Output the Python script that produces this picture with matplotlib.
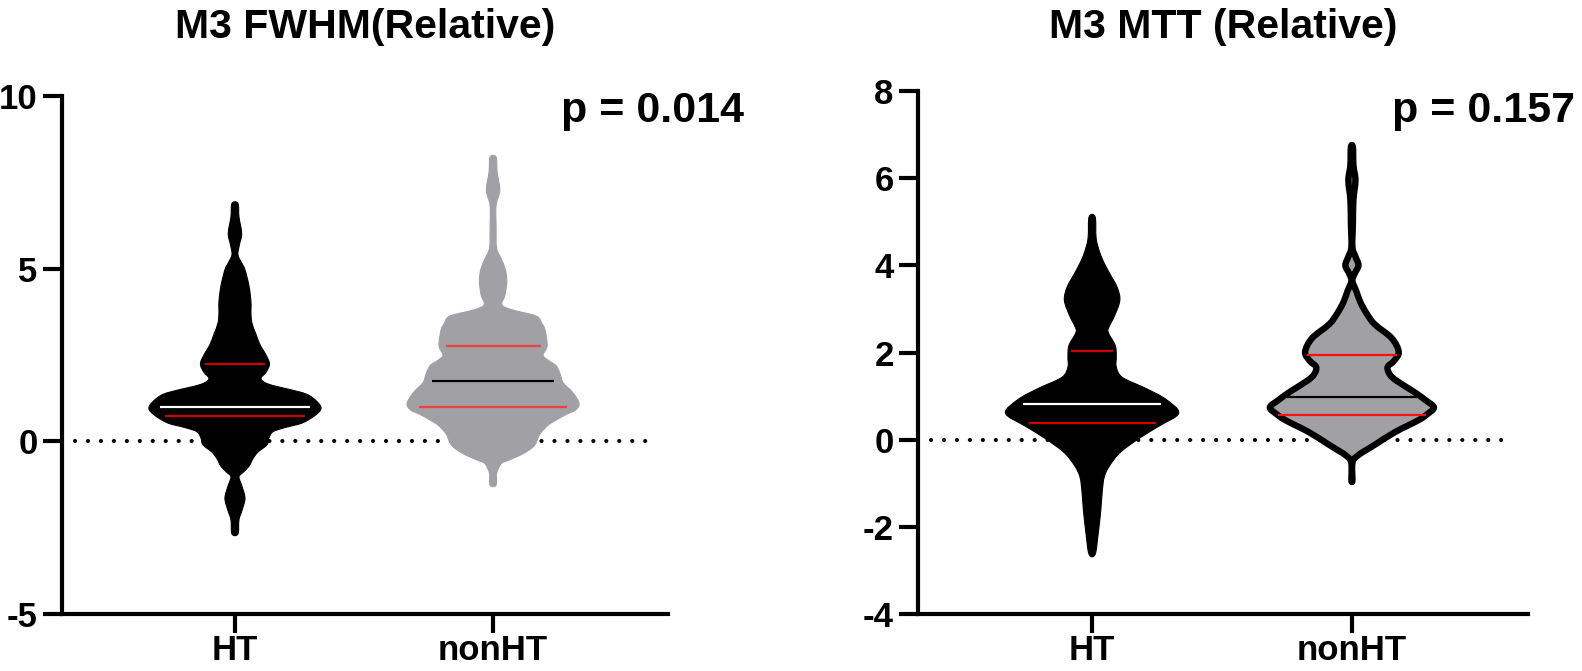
import numpy as np
import matplotlib
matplotlib.use('Agg')
import matplotlib.pyplot as plt
from matplotlib.path import Path
from matplotlib.patches import PathPatch

plt.rcParams['font.family'] = ['Liberation Sans', 'DejaVu Sans']
plt.rcParams['font.weight'] = 'bold'
plt.rcParams['axes.unicode_minus'] = False

# ---- data ----
groups = ['HT', 'nonHT']
titles = ['M3 FWHM(Relative)', 'M3 MTT (Relative)']
p_labels = ['p = 0.014', 'p = 0.157']

# violin outlines: value levels (top to bottom) and half-width of the density (px-like units)
fwhm_ht_y = [6.89, 6.5, 6.02, 5.7, 5.4, 5.15, 4.97, 4.5, 4.04, 3.7, 3.42, 3.1, 2.8, 2.5, 2.24, 2.0,
             1.83, 1.7, 1.6, 1.5, 1.36, 1.15, 0.95, 0.75, 0.53, 0.4, 0.28, 0.1, -0.1, -0.31, -0.5,
             -0.72, -0.9, -1.03, -1.3, -1.65, -2.0, -2.27, -2.68]
fwhm_ht_w = [3, 4, 6.7, 4.5, 3, 7, 10, 14, 16, 16, 17, 21, 25, 31, 34.5, 31,
             26, 30, 40, 55, 72, 82, 86, 80, 67, 50, 38, 34, 32, 23, 18,
             14, 8, 4, 7, 10, 7, 4, 3]

fwhm_non_y = [8.23, 7.8, 7.27, 6.84, 6.2, 5.6, 5.29, 5.0, 4.66, 4.25, 3.95, 3.8, 3.63, 3.4, 3.22,
              2.76, 2.5, 2.35, 2.19, 1.95, 1.7, 1.4, 1.09, 0.9, 0.78, 0.6, 0.47, 0.22, -0.09,
              -0.25, -0.4, -0.55, -0.65, -0.93, -1.27]
fwhm_non_w = [3, 4, 6.7, 3, 3, 3.5, 8, 12, 13.7, 12, 9, 20, 43, 49, 52,
              54, 50, 55, 63, 67, 70, 80, 86, 82, 73, 62, 55, 47, 42,
              36, 27, 15, 8, 3.5, 3]

mtt_ht_y = [5.11, 4.62, 4.3, 4.05, 3.81, 3.49, 3.19, 2.83, 2.6, 2.46, 2.16, 1.9, 1.67, 1.43, 1.18,
            0.93, 0.61, 0.32, 0.05, -0.29, -0.61, -0.86, -1.2, -1.6, -2.16, -2.63]
mtt_ht_w = [3, 4, 7.5, 12, 17.5, 25, 27.5, 22, 17, 16, 23, 24, 24, 30, 53,
            73, 86, 67, 48, 28, 17, 12, 10, 8.7, 6, 3]

mtt_non_y = [6.71, 6.3, 5.95, 5.5, 4.96, 4.42, 4.2, 4.0, 3.8, 3.64, 3.4, 3.15, 2.9, 2.65, 2.33,
             2.01, 1.8, 1.67, 1.5, 1.35, 1.1, 0.9, 0.74, 0.58, 0.44, 0.17, -0.12, -0.37, -0.54, -0.93]
mtt_non_w = [1, 1.5, 3.5, 1.5, 1, 0.5, 3.5, 6.5, 2.5, 0.5, 4.5, 8.5, 14.5, 22.5, 39.5,
             46.5, 41.5, 35.5, 37.5, 44.5, 61.5, 73.5, 81.5, 74.5, 65.5, 42.5, 22.5, 5.5, 0.5, 0.5]

# quartiles [Q1, median, Q3]
fwhm_ht_q = [0.74, 0.99, 2.24]
fwhm_non_q = [1.0, 1.75, 2.76]
mtt_ht_q = [0.39, 0.81, 2.04]
mtt_non_q = [0.57, 0.98, 1.94]

WSCALE = 1 / 258.0
GREY = '#a0a0a5'


def smooth_outline(pts):
    # closed Catmull-Rom curve through the outline points, as Bezier segments
    n = len(pts)
    verts = [pts[0]]
    codes = [Path.MOVETO]
    for i in range(n):
        p0, p1, p2, p3 = pts[i - 1], pts[i], pts[(i + 1) % n], pts[(i + 2) % n]
        verts += [p1 + (p2 - p0) / 6, p2 - (p3 - p1) / 6, p2]
        codes += [Path.CURVE4] * 3
    verts.append(pts[0])
    codes.append(Path.CLOSEPOLY)
    return Path(np.array(verts), codes)


def violin(ax, pos, ys, ws, q, face, med_c, quart_c, edge=None, elw=0, frac=0.88):
    ys = np.asarray(ys, float)
    ws = np.asarray(ws, float) * WSCALE
    right = np.column_stack([pos + ws, ys])
    left = np.column_stack([pos - ws, ys])[::-1]
    pts = np.vstack([right, left])
    patch = PathPatch(smooth_outline(pts), facecolor=face,
                      edgecolor=edge if edge else face, linewidth=elw if edge else 0.8,
                      joinstyle='round', zorder=2)
    ax.add_patch(patch)
    for k, val in enumerate(q):
        hw = np.interp(val, ys[::-1], ws[::-1]) * frac
        ax.plot([pos - hw, pos + hw], [val, val], color=med_c if k == 1 else quart_c,
                lw=1.6, solid_capstyle='butt', zorder=3)


fig = plt.figure(figsize=(15.82, 6.71), dpi=100)
ax1 = fig.add_axes([0.0392, 0.0849, 0.3831, 0.7720])
ax2 = fig.add_axes([0.5803, 0.0849, 0.3856, 0.7795])

violin(ax1, 0, fwhm_ht_y, fwhm_ht_w, fwhm_ht_q, 'black', 'white', '#d00000')
violin(ax1, 1, fwhm_non_y, fwhm_non_w, fwhm_non_q, GREY, 'black', '#f04040')
violin(ax2, 0, mtt_ht_y, mtt_ht_w, mtt_ht_q, 'black', 'white', '#d00000')
violin(ax2, 1, mtt_non_y, mtt_non_w, mtt_non_q, GREY, 'black', '#ff1010',
       edge='black', elw=4.6, frac=1.0)

for ax, ylim, yt in [(ax1, (-5, 10), [-5, 0, 5, 10]), (ax2, (-4, 8), [-4, -2, 0, 2, 4, 6, 8])]:
    ax.plot([-0.62, 1.62], [0, 0], color='black', lw=3.0,
            linestyle=(0, (0.01, 3.1)), dash_capstyle='round', zorder=1)
    ax.set_xlim(-0.67, 1.678)
    ax.set_ylim(*ylim)
    ax.set_yticks(yt)
    ax.set_xticks([0, 1])
    ax.set_xticklabels(groups)
    for s in ['top', 'right']:
        ax.spines[s].set_visible(False)
    for s in ['left', 'bottom']:
        ax.spines[s].set_linewidth(3)
    ax.tick_params(axis='y', length=13.5, width=3, pad=4, labelsize=25)
    ax.tick_params(axis='x', length=13.5, width=3, pad=1, labelsize=25)
    for lab in ax.get_xticklabels() + ax.get_yticklabels():
        lab.set_fontweight('bold')

# titles centred over each panel
for ax, t in zip([ax1, ax2], titles):
    b = ax.get_position()
    fig.text(b.x0 + b.width / 2, 1 - 38 / 671, t, ha='center', va='baseline',
             fontsize=29.5, fontweight='bold')

fig.text(744 / 1582, 1 - 122 / 671, p_labels[0], ha='right', va='baseline',
         fontsize=31, fontweight='bold')
fig.text(1575 / 1582, 1 - 122 / 671, p_labels[1], ha='right', va='baseline',
         fontsize=31, fontweight='bold')

plt.savefig('out.png', dpi=100)
